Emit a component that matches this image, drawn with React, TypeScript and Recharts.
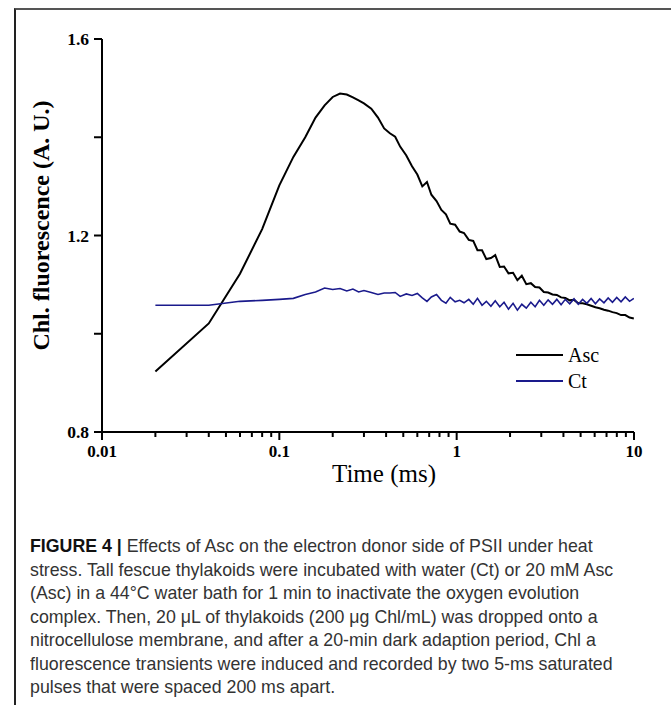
import React from "react"
import { LineChart, Line, XAxis, YAxis, Legend, Label } from "recharts"

// time points (ms) shared by both traces
const times = [
  0.02, 0.04, 0.06, 0.08, 0.1, 0.12, 0.14, 0.16, 0.18, 0.2, 0.22, 0.24, 0.26, 0.28, 0.3,
  0.33, 0.36, 0.39, 0.42, 0.45, 0.48, 0.52, 0.56, 0.6, 0.64, 0.68, 0.72, 0.77, 0.82, 0.87,
  0.92, 0.98, 1.04, 1.1, 1.17, 1.24, 1.31, 1.39, 1.47, 1.56, 1.65, 1.75, 1.85, 1.96, 2.08,
  2.2, 2.33, 2.47, 2.62, 2.77, 2.93, 3.1, 3.28, 3.47, 3.67, 3.88, 4.1, 4.34, 4.59, 4.85,
  5.13, 5.42, 5.73, 6.06, 6.4, 6.77, 7.15, 7.56, 7.99, 8.45, 8.93, 9.44, 9.98,
]

const asc = [
  0.923, 1.021, 1.122, 1.213, 1.302, 1.36, 1.4, 1.44, 1.465, 1.482, 1.489, 1.487, 1.481, 1.475, 1.469,
  1.458, 1.44, 1.418, 1.408, 1.401, 1.381, 1.363, 1.341, 1.324, 1.3, 1.309, 1.283, 1.27, 1.252, 1.243,
  1.224, 1.222, 1.208, 1.205, 1.191, 1.189, 1.17, 1.17, 1.152, 1.154, 1.16, 1.136, 1.137, 1.123, 1.124,
  1.109, 1.118, 1.101, 1.103, 1.095, 1.094, 1.085, 1.084, 1.08, 1.079, 1.074, 1.073, 1.068, 1.069, 1.062,
  1.062, 1.06, 1.057, 1.054, 1.052, 1.049, 1.047, 1.044, 1.042, 1.038, 1.038, 1.033, 1.031,
]

const ct = [
  1.058, 1.058, 1.066, 1.068, 1.07, 1.072, 1.08, 1.085, 1.093, 1.09, 1.092, 1.087, 1.091, 1.085, 1.088,
  1.084, 1.08, 1.083, 1.083, 1.084, 1.076, 1.081, 1.078, 1.082, 1.073, 1.066, 1.075, 1.08, 1.068, 1.062,
  1.074, 1.065, 1.068, 1.063, 1.07, 1.06, 1.072, 1.058, 1.066, 1.056, 1.067, 1.055, 1.064, 1.05, 1.062,
  1.048, 1.06, 1.052, 1.064, 1.055, 1.068, 1.058, 1.069, 1.06, 1.07, 1.059, 1.07, 1.061, 1.071, 1.06,
  1.07, 1.062, 1.072, 1.061, 1.071, 1.063, 1.073, 1.064, 1.074, 1.065, 1.075, 1.066, 1.072,
]

const xMajor = [0.01, 0.1, 1, 10]
const xMinor = [
  0.02, 0.03, 0.04, 0.05, 0.06, 0.07, 0.08, 0.09,
  0.2, 0.3, 0.4, 0.5, 0.6, 0.7, 0.8, 0.9,
  2, 3, 4, 5, 6, 7, 8, 9,
]
const yMajor = [0.8, 1.2, 1.6]
const yMinor = [1.0, 1.4]

const caption = [
  "Effects of Asc on the electron donor side of PSII under heat",
  "stress. Tall fescue thylakoids were incubated with water (Ct) or 20 mM Asc",
  "(Asc) in a 44°C water bath for 1 min to inactivate the oxygen evolution",
  "complex. Then, 20 μL of thylakoids (200 μg Chl/mL) was dropped onto a",
  "nitrocellulose membrane, and after a 20-min dark adaption period, Chl a",
  "fluorescence transients were induced and recorded by two 5-ms saturated",
  "pulses that were spaced 200 ms apart.",
]

const data = times.map((t, i) => ({ t, asc: asc[i], ct: ct[i] }))

const serif = "'Liberation Serif', 'Times New Roman', serif"

function XTick(props: any) {
  const { x, y, payload } = props
  const major = xMajor.includes(payload.value)
  return (
    <g>
      <line x1={x} x2={x} y1={y} y2={y + (major ? 8 : 5)} stroke="#000" strokeWidth={2} />
      {major && (
        <text x={x} y={y + 25} textAnchor="middle" fontFamily={serif} fontWeight="bold" fontSize={17} fill="#000">
          {payload.value}
        </text>
      )}
    </g>
  )
}

function YTick(props: any) {
  const { x, y, payload } = props
  const major = yMajor.includes(payload.value)
  return (
    <g>
      <line x1={x} x2={x - 8} y1={y} y2={y} stroke="#000" strokeWidth={2} />
      {major && (
        <text x={x - 13} y={y + 6} textAnchor="end" fontFamily={serif} fontWeight="bold" fontSize={17.5} fill="#000">
          {payload.value.toFixed(1)}
        </text>
      )}
    </g>
  )
}

function LegendBox(props: any) {
  const { payload } = props
  return (
    <div style={{ fontFamily: serif, fontSize: 20, color: "#000" }}>
      {payload.map((p: any) => (
        <div key={p.value} style={{ display: "flex", alignItems: "center", height: 26 }}>
          <div style={{ width: 47, height: 0, borderTop: `2px solid ${p.color}`, marginRight: 5 }} />
          <span>{p.value}</span>
        </div>
      ))}
    </div>
  )
}

export default function App() {
  return (
    <div style={{ position: "absolute", left: 0, top: 0, width: 671, height: 705, background: "#fff", overflow: "hidden" }}>
      <div style={{ position: "absolute", left: 14, top: 8, right: 0, bottom: 0, borderLeft: "2px solid #222", borderTop: "2px solid #555" }} />
      <div style={{ position: "absolute", left: 0, top: 0 }}>
        <LineChart width={671} height={500} data={data} margin={{ top: 39, right: 37, bottom: 18, left: 40 }}>
          <XAxis
            xAxisId="x"
            dataKey="t"
            type="number"
            scale="log"
            domain={[0.01, 10]}
            ticks={[...xMajor, ...xMinor]}
            interval={0}
            allowDataOverflow
            height={50}
            tickSize={0}
            tickMargin={0}
            tickLine={false}
            axisLine={{ stroke: "#000", strokeWidth: 2 }}
            tick={<XTick />}
          >
            <Label
              content={(p: any) => (
                <text x={p.viewBox.x + p.viewBox.width / 2 + 16} y={p.viewBox.y + 50} textAnchor="middle" fontFamily={serif} fontSize={25} fill="#000">
                  Time (ms)
                </text>
              )}
            />
          </XAxis>
          <XAxis xAxisId="top" orientation="top" type="number" domain={[0.01, 10]} height={0} tick={false} tickLine={false} axisLine={{ stroke: "#000", strokeWidth: 2 }} />
          <YAxis
            yAxisId="y"
            type="number"
            domain={[0.8, 1.6]}
            ticks={[...yMajor, ...yMinor]}
            interval={0}
            width={62}
            tickSize={0}
            tickMargin={0}
            tickLine={false}
            axisLine={{ stroke: "#000", strokeWidth: 2 }}
            tick={<YTick />}
          >
            <Label
              content={(p: any) => {
                const cx = p.viewBox.x + 1
                const cy = p.viewBox.y + p.viewBox.height / 2 - 10
                return (
                  <text x={cx} y={cy} transform={`rotate(-90, ${cx}, ${cy})`} dy={8} textAnchor="middle" fontFamily={serif} fontWeight="bold" fontSize={24} fill="#000">
                    Chl. fluorescence (A. U.)
                  </text>
                )
              }}
            />
          </YAxis>
          <YAxis yAxisId="right" orientation="right" type="number" domain={[0.8, 1.6]} width={0} tick={false} tickLine={false} axisLine={{ stroke: "#000", strokeWidth: 2 }} />
          <Legend
            layout="vertical"
            verticalAlign="middle"
            align="center"
            content={<LegendBox />}
            wrapperStyle={{ left: 516, top: 342, width: 110 }}
          />
          <Line xAxisId="x" yAxisId="y" type="linear" dataKey="asc" name="Asc" stroke="#000" strokeWidth={2} dot={false} isAnimationActive={false} />
          <Line xAxisId="x" yAxisId="y" type="linear" dataKey="ct" name="Ct" stroke="#1a1a8c" strokeWidth={1.6} dot={false} isAnimationActive={false} />
        </LineChart>
      </div>
      <div style={{ position: "absolute", left: 30, top: 534, fontFamily: "'Liberation Sans', Arial, sans-serif", fontSize: 19, lineHeight: "23.5px", color: "#333", whiteSpace: "nowrap", transform: "scaleX(0.935)", transformOrigin: "left top" }}>
        {caption.map((line, i) => (
          <div key={i}>
            {i === 0 && <b style={{ color: "#111" }}>FIGURE 4 | </b>}
            {line}
          </div>
        ))}
      </div>
    </div>
  )
}
